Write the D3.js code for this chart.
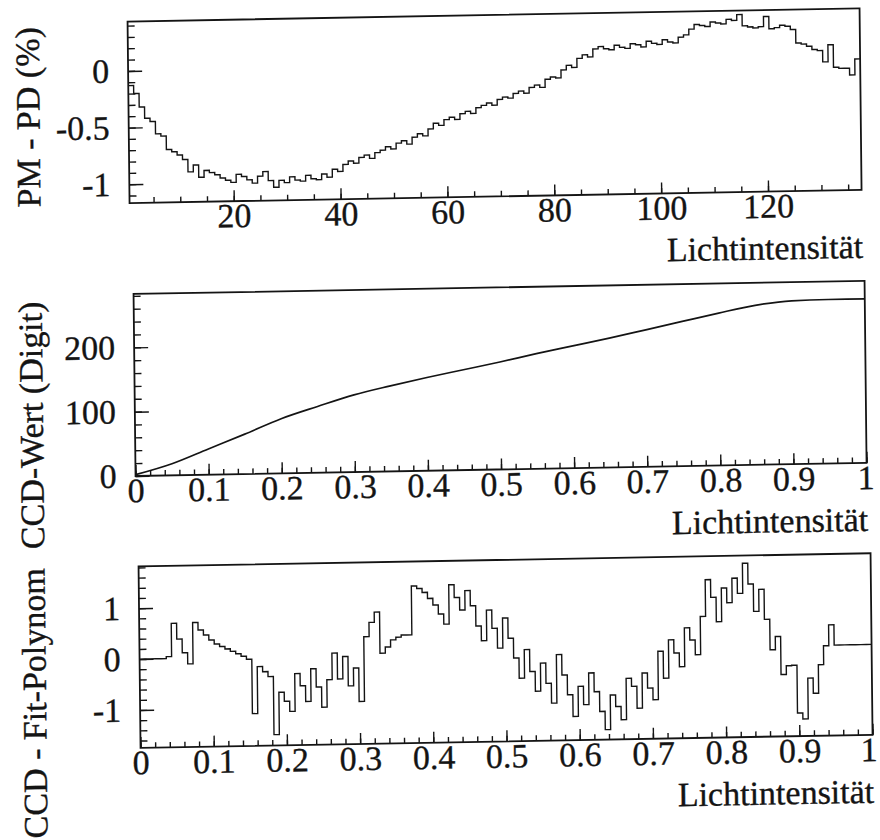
<!DOCTYPE html>
<html>
<head>
<meta charset="utf-8">
<script src="https://cdn.jsdelivr.net/npm/d3@7"></script>
<style>
  html, body { margin: 0; padding: 0; background: #fff; }
  svg { display: block; }
  text { font-family: "Liberation Serif", "Times New Roman", serif; fill: #141414; stroke: #141414; stroke-width: 0.35px; }
  .axis text { font-family: "Liberation Serif", "Times New Roman", serif; font-size: 34px; fill: #141414; stroke: #141414; stroke-width: 0.35px; }
</style>
</head>
<body>
<svg id="chart" width="880" height="840"></svg>
<script>
// ---- Panel 1: PM - PD deviation (%) for each of the 137 light-intensity steps ----
const pmPdSteps = d3.range(1, 138);
const pmPdValues = [
  -0.13, -0.20, -0.32, -0.42, -0.45, -0.56, -0.58, -0.70, -0.72, -0.75,
  -0.79, -0.90, -0.84, -0.95, -0.89, -0.91, -0.93, -0.96, -0.98, -1.00,
  -0.93, -0.95, -0.98, -1.01, -0.95, -0.91, -0.99, -1.05, -0.99, -1.01,
  -0.96, -0.99, -1.00, -0.95, -0.98, -0.99, -0.94, -0.97, -0.90, -0.92,
  -0.86, -0.83, -0.85, -0.80, -0.78, -0.81, -0.76, -0.74, -0.71, -0.73,
  -0.68, -0.66, -0.69, -0.63, -0.60, -0.62, -0.56, -0.51, -0.53, -0.48,
  -0.46, -0.48, -0.43, -0.41, -0.43, -0.38, -0.36, -0.34, -0.36, -0.31,
  -0.29, -0.30, -0.26, -0.24, -0.26, -0.21, -0.19, -0.21, -0.14, -0.12,
  -0.13, -0.06, -0.02, -0.04, 0.04, 0.07, 0.05, 0.12, 0.14, 0.12,
  0.11, 0.15, 0.13, 0.12, 0.16, 0.15, 0.13, 0.18, 0.16, 0.15,
  0.19, 0.17, 0.16, 0.21, 0.23, 0.28, 0.32, 0.31, 0.30, 0.34,
  0.33, 0.32, 0.36, 0.35, 0.40, 0.30, 0.29, 0.28, 0.29, 0.38,
  0.27, 0.28, 0.30, 0.29, 0.26, 0.14, 0.13, 0.11, 0.08, 0.07,
  -0.03, 0.12, -0.08, -0.09, -0.09, -0.15, -0.01
];
const pmPdXTicks = [20, 40, 60, 80, 100, 120];
const pmPdXLabels = ["20", "40", "60", "80", "100", "120"];
const pmPdYTicks = [-1, -0.5, 0];
const pmPdYLabels = ["-1", "-0.5", "0"];

// ---- Panel 2: CCD response (digits) versus relative light intensity ----
const ccdIntensity = [0, 0.05, 0.1, 0.15, 0.2, 0.25, 0.3, 0.35, 0.4, 0.45, 0.5,
                      0.55, 0.6, 0.65, 0.7, 0.75, 0.8, 0.85, 0.9, 0.95, 1];
const ccdValue = [2, 18, 40, 62, 85, 103, 120, 133, 145, 156, 167,
                  179, 190, 201, 213, 225, 237, 248, 254, 255, 255];
const ccdYTicks = [0, 100, 200];
const ccdYLabels = ["0", "100", "200"];

// ---- Panel 3: CCD minus fit polynomial, 137 bins on [0, 1] ----
const residualValues = [
  0, 0, 0, 0, 0, 0.04, 0.69, 0.38, 0.11, -0.11,
  0.70, 0.55, 0.45, 0.35, 0.27, 0.22, 0.17, 0.12, 0.07, 0.02,
  -0.04, -1.11, -0.19, -0.29, -0.39, -1.53, -0.70, -0.88, -1.08, -0.34,
  -0.58, -0.89, -0.25, -0.61, -1.01, -0.47, 0.05, -0.46, -0.02, -0.60,
  -0.25, -0.91, 0.36, 0.64, 0.84, 0.03, 0.15, 0.29, 0.34, 0.38,
  0.38, 1.34, 1.29, 1.21, 1.09, 0.96, 0.78, 0.58, 1.35, 1.10,
  0.85, 1.23, 0.93, 0.53, 0.24, 0.84, 0.48, 0.09, 0.68, 0.28,
  -0.11, -0.51, 0.05, -0.38, -0.77, -0.22, -0.62, -1.01, -0.06, -0.46,
  -0.85, -1.28, -0.69, -1.05, -0.43, -0.80, -1.19, -1.55, -0.87, -1.10,
  -1.36, -0.55, -0.71, -1.14, -0.45, -0.75, -0.98, -0.03, -0.56, 0.19,
  -0.07, -0.34, 0.42, 0.18, -0.11, 0.64, 1.36, 1.01, 0.53, 1.19,
  0.90, 1.38, 1.08, 1.67, 1.26, 0.72, 1.15, 0.56, -0.04, 0.22,
  -0.53, -0.36, -0.35, -1.29, -1.41, -0.61, -0.91, -0.35, 0.02, 0.43,
  0.03, 0.03, 0.03, 0.03, 0.03, 0.03, 0.03
];
const residualYTicks = [-1, 0, 1];
const residualYLabels = ["-1", "0", "1"];

// Shared intensity axis for panels 2 and 3
const unitXTicks = [0, 0.1, 0.2, 0.3, 0.4, 0.5, 0.6, 0.7, 0.8, 0.9, 1];
const unitXLabels = ["0", "0.1", "0.2", "0.3", "0.4", "0.5", "0.6", "0.7", "0.8", "0.9", "1"];

const xTitle = "Lichtintensität";
const yTitles = ["PM - PD (%)", "CCD-Wert (Digit)", "CCD - Fit-Polynom"];

// ---------------- drawing ----------------
const INK = "#141414";
const svg = d3.select("#chart");
// the printed page sits slightly askew
const root = svg.append("g").attr("transform", "matrix(1,-0.018,0.011,1,-4.62,7.92)");

const boxes = [
  { left: 132, right: 864, top: 16,    bottom: 197.5, titleY: 110 },
  { left: 135, right: 866, top: 288.5, bottom: 470.5, titleY: 418 },
  { left: 137, right: 869, top: 561,   bottom: 742.5, titleY: 696 }
];

function histogramPoints(values, lo, width) {
  const pts = values.map((v, i) => [lo + i * width, v]);
  pts.push([lo + values.length * width, values[values.length - 1]]);
  return pts;
}

function drawPanel(box, x, y, o) {
  const g = root.append("g");

  // minor ticks (inside the frame)
  g.append("g").attr("class", "axis").attr("color", INK)
    .attr("transform", `translate(0,${box.bottom})`)
    .call(d3.axisBottom(x).tickValues(o.xMinor).tickSize(-5.5).tickFormat(""))
    .call(s => s.select(".domain").remove());
  g.append("g").attr("class", "axis").attr("color", INK)
    .attr("transform", `translate(${box.left},0)`)
    .call(d3.axisLeft(y).tickValues(o.yMinor).tickSize(-7).tickFormat(""))
    .call(s => s.select(".domain").remove());

  // major ticks with labels
  const xAxis = g.append("g").attr("class", "axis").attr("color", INK)
    .attr("transform", `translate(0,${box.bottom})`)
    .call(d3.axisBottom(x).tickValues(o.xTicks).tickSize(-11).tickPadding(2)
      .tickFormat((d, i) => o.xLabels[i]))
    .call(s => s.select(".domain").remove());
  // keep the label at the right end of the axis inside the page
  if (o.lastLabelShift) {
    xAxis.selectAll(".tick text").filter((d, i, n) => i === n.length - 1)
      .attr("dx", o.lastLabelShift);
  }
  g.append("g").attr("class", "axis").attr("color", INK)
    .attr("transform", `translate(${box.left},0)`)
    .call(d3.axisLeft(y).tickValues(o.yTicks).tickSize(-14).tickPadding(19)
      .tickFormat((d, i) => o.yLabels[i]))
    .call(s => s.select(".domain").remove());

  g.selectAll(".tick line").attr("stroke-width", 1.4);

  // data
  g.append("path")
    .attr("d", o.line)
    .attr("fill", "none")
    .attr("stroke", INK)
    .attr("stroke-width", o.lineWidth || 1.4)
    .attr("stroke-linejoin", "miter");

  // frame
  g.append("rect")
    .attr("x", box.left).attr("y", box.top)
    .attr("width", box.right - box.left).attr("height", box.bottom - box.top)
    .attr("fill", "none").attr("stroke", INK).attr("stroke-width", 1.8);

  // axis titles
  g.append("text")
    .attr("x", box.right + 1).attr("y", box.bottom + 68)
    .attr("text-anchor", "end").attr("font-size", 34)
    .text(xTitle);
  g.append("text")
    .attr("transform", `translate(43,${box.titleY}) rotate(-90)`)
    .attr("text-anchor", "middle").attr("font-size", 34)
    .text(o.yTitle);
}

// Panel 1
{
  const b = boxes[0];
  const x = d3.scaleLinear().domain([0.5, 137.5]).range([b.left, b.right]);
  const y = d3.scaleLinear().domain([-1.166, 0.436]).range([b.bottom, b.top]);
  const pts = histogramPoints(pmPdValues, pmPdSteps[0] - 0.5, 1);
  const line = d3.line().x(d => x(d[0])).y(d => y(d[1])).curve(d3.curveStepAfter);
  drawPanel(b, x, y, {
    xTicks: pmPdXTicks, xLabels: pmPdXLabels, xMinor: d3.range(5, 136, 5),
    yTicks: pmPdYTicks, yLabels: pmPdYLabels, yMinor: d3.range(-11, 5).map(i => i / 10),
    line: line(pts), yTitle: yTitles[0]
  });
}

// Panel 2
{
  const b = boxes[1];
  const x = d3.scaleLinear().domain([0, 1]).range([b.left, b.right]);
  const y = d3.scaleLinear().domain([0, 283]).range([b.bottom, b.top]);
  const line = d3.line().x((d, i) => x(ccdIntensity[i])).y(d => y(d)).curve(d3.curveMonotoneX);
  drawPanel(b, x, y, {
    xTicks: unitXTicks, xLabels: unitXLabels, xMinor: d3.range(0, 51).map(i => i / 50),
    yTicks: ccdYTicks, yLabels: ccdYLabels, yMinor: d3.range(0, 281, 20),
    line: line(ccdValue), yTitle: yTitles[1], lineWidth: 1.7, lastLabelShift: -1
  });
}

// Panel 3
{
  const b = boxes[2];
  const x = d3.scaleLinear().domain([0, 1]).range([b.left, b.right]);
  const y = d3.scaleLinear().domain([-1.745, 1.82]).range([b.bottom, b.top]);
  const pts = histogramPoints(residualValues, 0, 1 / residualValues.length);
  const line = d3.line().x(d => x(d[0])).y(d => y(d[1])).curve(d3.curveStepAfter);
  drawPanel(b, x, y, {
    xTicks: unitXTicks, xLabels: unitXLabels, xMinor: d3.range(0, 51).map(i => i / 50),
    yTicks: residualYTicks, yLabels: residualYLabels, yMinor: d3.range(-8, 10).map(i => i / 5),
    line: line(pts), yTitle: yTitles[2], lastLabelShift: -4
  });
}
</script>
</body>
</html>
